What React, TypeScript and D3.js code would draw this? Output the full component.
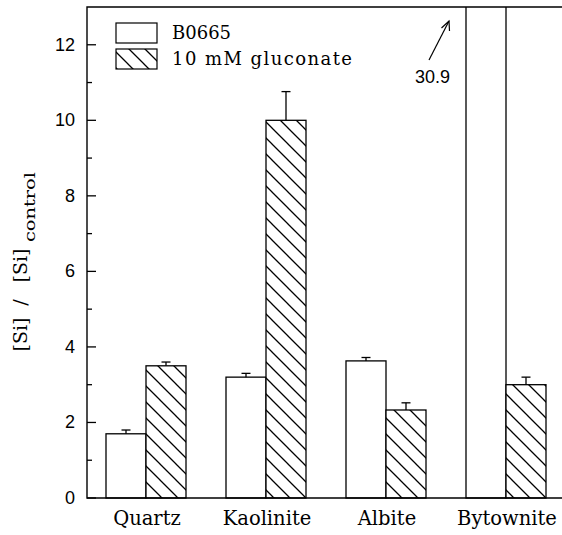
import React from "react";
import * as d3 from "d3";

const categories = ["Quartz", "Kaolinite", "Albite", "Bytownite"];
const seriesNames = ["B0665", "10 mM gluconate"];
const b0665 = [1.7, 3.2, 3.63, 30.9];
const b0665Err = [0.1, 0.1, 0.09, 0];
const gluconate = [3.5, 10.0, 2.33, 3.0];
const gluconateErr = [0.1, 0.76, 0.19, 0.2];
const majorTicks = [0, 2, 4, 6, 8, 10, 12];
const minorTicks = [1, 3, 5, 7, 9, 11];
const offscaleLabel = "30.9";

const W = 562;
const H = 535;
const left = 87;
const top = 7;
const bottom = 498;
const right = 566;

const SERIF = "'DejaVu Serif', serif";
const SANS = "'Liberation Sans', Arial, sans-serif";

export default function App() {
  const y = d3.scaleLinear().domain([0, 13]).range([bottom, top]);
  const x = d3
    .scaleBand<string>()
    .domain(categories)
    .range([left - 1, right])
    .paddingInner(1 / 3)
    .paddingOuter(1 / 6);
  const xs = d3.scaleBand<string>().domain(seriesNames).range([0, x.bandwidth()]);

  const seriesData = [
    { name: seriesNames[0], values: b0665, errs: b0665Err, fill: "#fff" },
    { name: seriesNames[1], values: gluconate, errs: gluconateErr, fill: "url(#hatch)" },
  ];

  return (
    <svg
      width={W}
      height={H}
      style={{ position: "absolute", left: 0, top: 0, background: "#fff" }}
    >
      <defs>
        <pattern id="hatch" patternUnits="userSpaceOnUse" width={16} height={16}>
          <rect width={16} height={16} fill="#fff" />
          <path d="M-4,-4 L20,20 M-4,12 L4,20 M12,-4 L20,4" stroke="#000" strokeWidth={1.3} />
        </pattern>
        <clipPath id="plotClip">
          <rect x={left - 2} y={top} width={right - left + 4} height={bottom - top + 2} />
        </clipPath>
      </defs>

      {/* bars */}
      <g clipPath="url(#plotClip)">
        {seriesData.map((s) =>
          categories.map((c, i) => {
            const x0 = (x(c) ?? 0) + (xs(s.name) ?? 0);
            const yv = y(s.values[i]);
            return (
              <rect
                key={s.name + c}
                x={x0}
                y={yv}
                width={xs.bandwidth()}
                height={bottom - yv}
                fill={s.fill}
                stroke="#000"
                strokeWidth={1.3}
              />
            );
          })
        )}
        {seriesData.map((s) =>
          categories.map((c, i) => {
            if (!s.errs[i]) return null;
            const cx = (x(c) ?? 0) + (xs(s.name) ?? 0) + xs.bandwidth() / 2;
            const y1 = y(s.values[i]);
            const y2 = y(s.values[i] + s.errs[i]);
            return (
              <g key={"e" + s.name + c} stroke="#000" strokeWidth={1.3}>
                <line x1={cx} x2={cx} y1={y1} y2={y2} />
                <line x1={cx - 4.5} x2={cx + 4.5} y1={y2} y2={y2} />
              </g>
            );
          })
        )}
      </g>

      {/* axes frame */}
      <path
        d={`M${W},${top} L${left},${top} L${left},${bottom} L${W},${bottom}`}
        fill="none"
        stroke="#000"
        strokeWidth={1.4}
      />
      {majorTicks.map((t) => (
        <g key={"M" + t}>
          <line x1={left} x2={left + 9} y1={y(t)} y2={y(t)} stroke="#000" strokeWidth={1.3} />
          <text
            x={75}
            y={y(t)}
            textAnchor="end"
            dominantBaseline="central"
            fontFamily={SANS}
            fontSize={18}
            fill="#000"
          >
            {t}
          </text>
        </g>
      ))}
      {minorTicks.map((t) => (
        <line key={"m" + t} x1={left} x2={left + 5} y1={y(t)} y2={y(t)} stroke="#000" strokeWidth={1.3} />
      ))}

      {/* x labels */}
      {categories.map((c) => (
        <text
          key={"l" + c}
          x={(x(c) ?? 0) + x.bandwidth() / 2 + 1}
          y={525}
          textAnchor="middle"
          fontFamily={SERIF}
          fontSize={19.5}
          fill="#000"
        >
          {c}
        </text>
      ))}

      {/* y label */}
      <g fontFamily={SERIF} fill="#000">
        <text transform="translate(27,334.5) rotate(-90)" textAnchor="middle" fontSize={19}>[Si]</text>
        <text transform="translate(27,302.5) rotate(-90)" textAnchor="middle" fontSize={19}>/</text>
        <text transform="translate(27,265.5) rotate(-90)" textAnchor="middle" fontSize={19}>[Si]</text>
        <text
          transform="translate(35,207) rotate(-90)"
          textAnchor="middle"
          fontSize={15}
          textLength={70}
          lengthAdjust="spacingAndGlyphs"
        >
          control
        </text>
      </g>

      {/* legend */}
      <rect x={116} y={23} width={41} height={20} fill="#fff" stroke="#000" strokeWidth={1.2} />
      <rect x={116} y={49} width={41} height={20} fill="url(#hatch)" stroke="#000" strokeWidth={1.2} />
      <text x={172} y={39} fontFamily={SERIF} fontSize={18} fill="#000">
        {seriesNames[0]}
      </text>
      <text
        x={172}
        y={65}
        fontFamily={SERIF}
        fontSize={18}
        fill="#000"
        textLength={180}
        lengthAdjust="spacing"
      >
        {seriesNames[1]}
      </text>

      {/* off-scale annotation */}
      <g stroke="#000" strokeWidth={1.2} fill="none">
        <line x1={429} y1={60} x2={449} y2={21} />
        <path d="M441.5,28 L449,21 L449.5,31" />
      </g>
      <text x={415} y={83} fontFamily={SANS} fontSize={18} fill="#000">
        {offscaleLabel}
      </text>
    </svg>
  );
}
